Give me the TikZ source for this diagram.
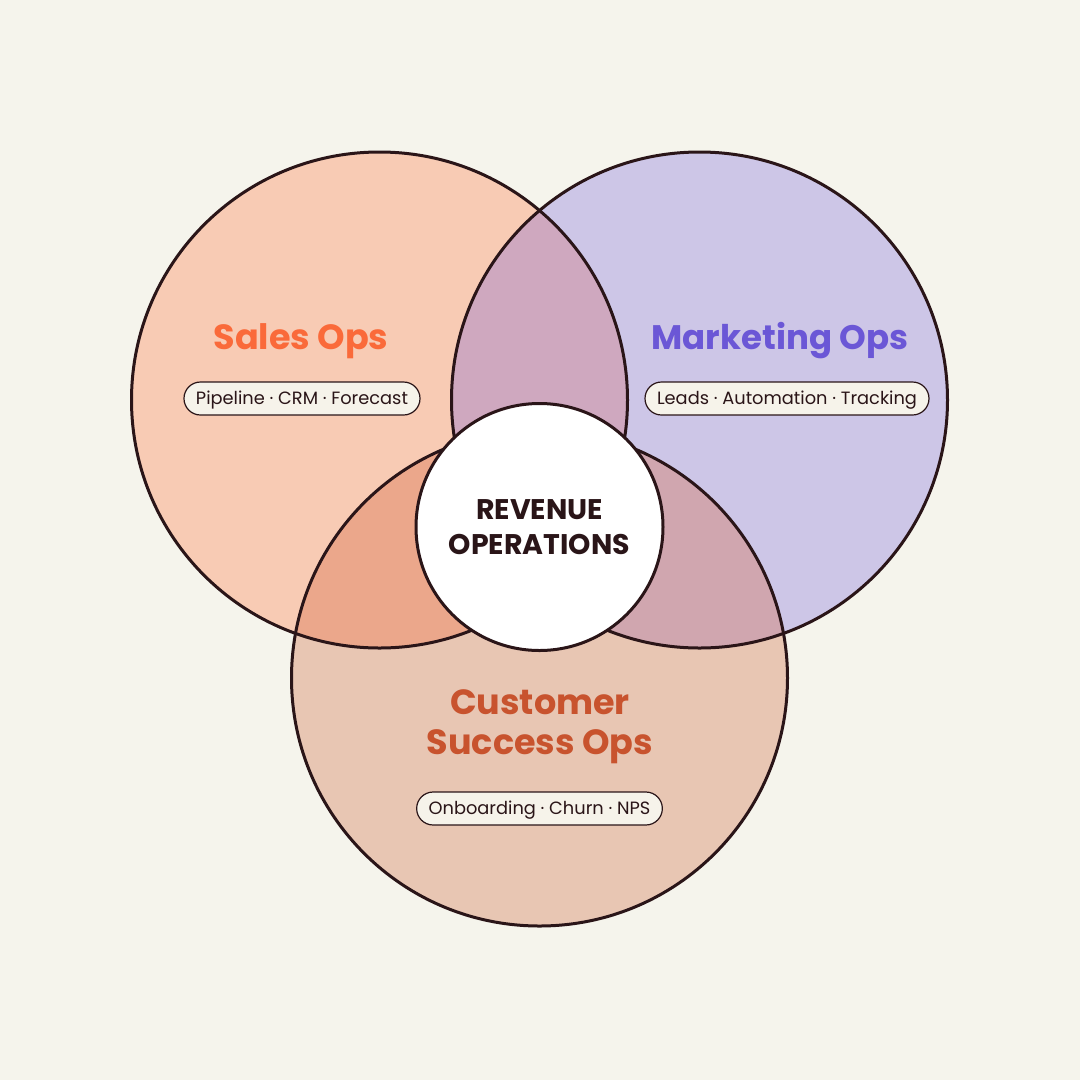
\documentclass[tikz,border=0pt]{standalone}
\usepackage{fontspec}
\setmainfont{Poppins}
\definecolor{bg}{HTML}{F5F4EC}
\definecolor{salesfill}{HTML}{F8CBB4}
\definecolor{mktfill}{HTML}{CDC6E7}
\definecolor{custfill}{HTML}{E8C6B3}
\definecolor{smfill}{HTML}{CFA8BF}
\definecolor{scfill}{HTML}{EBA78B}
\definecolor{mcfill}{HTML}{D0A6AF}
\definecolor{ink}{HTML}{2A1518}
\definecolor{salestxt}{HTML}{FA6A3A}
\definecolor{mkttxt}{HTML}{6B57D6}
\definecolor{custtxt}{HTML}{C8532E}
\definecolor{pillfill}{HTML}{F6F3EA}
\tikzset{
  outline/.style={draw=ink, line width=3pt},
  ringnode/.style={circle, minimum size=496pt, inner sep=0pt, outline},
  pill/.style={draw=ink, line width=1.2pt, fill=pillfill, rounded corners=16.5pt,
    minimum height=33pt, inner xsep=12pt, inner ysep=0pt, text=ink,
    text height=16.4pt, text depth=4pt,
    font=\fontsize{17.8}{21}\selectfont},
  title/.style={font=\fontsize{35}{40}\selectfont\bfseries, align=center},
}
\begin{document}
\begin{tikzpicture}[x=1pt,y=-1pt]
\path[fill=bg] (0,0) rectangle (1080,1080);
\useasboundingbox (0,0) rectangle (1080,1080);
% base fills
\fill[salesfill] (379.5,400) circle[radius=248pt];
\fill[mktfill] (699.5,400) circle[radius=248pt];
\fill[custfill] (539.5,678) circle[radius=248pt];
% pairwise overlaps
\begin{scope}
  \clip (379.5,400) circle[radius=248pt];
  \fill[smfill] (699.5,400) circle[radius=248pt];
  \fill[scfill] (539.5,678) circle[radius=248pt];
\end{scope}
\begin{scope}
  \clip (699.5,400) circle[radius=248pt];
  \fill[mcfill] (539.5,678) circle[radius=248pt];
\end{scope}
% outlines
\node[ringnode] (sales) at (379.5,400) {};
\node[ringnode] (mkt) at (699.5,400) {};
\node[ringnode] (cust) at (539.5,678) {};
% centre
\node[circle, minimum size=247pt, inner sep=0pt, outline, fill=white,
  font=\fontsize{28.4}{35}\selectfont\bfseries, text=ink, align=center] (rev) at (539.5,527) {REVENUE\\OPERATIONS};
% titles
\node[title, text=salestxt] (salest) at (301,341) {Sales Ops};
\node[title, text=mkttxt, font=\fontsize{34}{40}\selectfont\bfseries] (mktt) at (780,341) {Marketing Ops};
\node[title, text=custtxt] (custt) at (540,727) {Customer\\Success Ops};
% pills
\node[pill] (salespill) at (302,398.5) {Pipeline · CRM · Forecast};
\node[pill] (mktpill) at (787,398.5) {Leads · Automation · Tracking};
\node[pill] (custpill) at (539.5,808.5) {Onboarding · Churn · NPS};
\end{tikzpicture}
\end{document}
